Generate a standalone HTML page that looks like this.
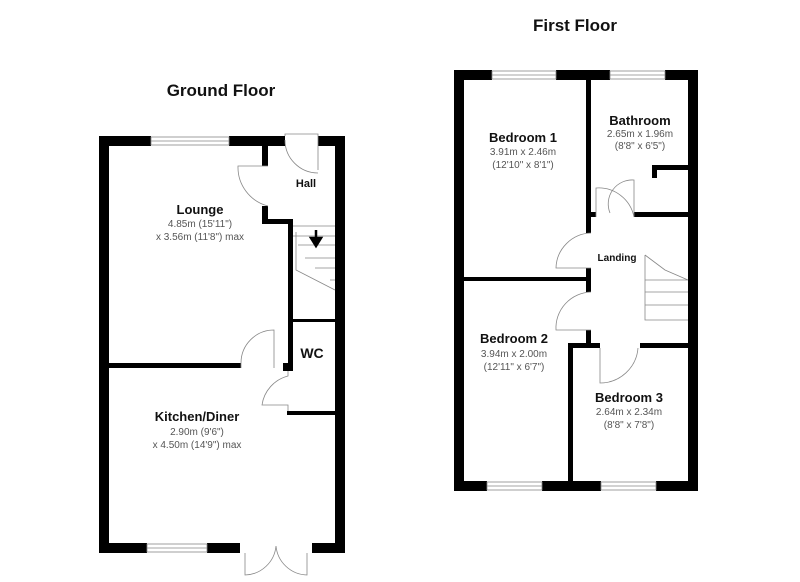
<!DOCTYPE html>
<html><head><style>
body{margin:0;background:#fff}
svg{display:block}
text{font-family:"Liberation Sans",sans-serif;text-anchor:middle}
.t{font-size:13px;font-weight:bold;fill:#111}
.s{font-size:10px;fill:#555}
.h{font-size:17px;font-weight:bold;fill:#111}
</style></head><body>
<svg width="800" height="582" viewBox="0 0 800 582">
<g fill="#000">
<rect x="99" y="136" width="52" height="10"/>
<rect x="229" y="136" width="56" height="10"/>
<rect x="318" y="136" width="27" height="10"/>
<rect x="99" y="136" width="10" height="417"/>
<rect x="335" y="136" width="10" height="417"/>
<rect x="99" y="543" width="48" height="10"/>
<rect x="207" y="543" width="33" height="10"/>
<rect x="312" y="543" width="33" height="10"/>
<rect x="262" y="146" width="6" height="20"/>
<rect x="262" y="206" width="6" height="18"/>
<rect x="262" y="219" width="31" height="5"/>
<rect x="288" y="219" width="5" height="152"/>
<rect x="293" y="319" width="42" height="3"/>
<rect x="109" y="363" width="132" height="5"/>
<rect x="283" y="363" width="10" height="8"/>
<rect x="287" y="411" width="48" height="4"/>
<rect x="454" y="70" width="38" height="10"/>
<rect x="556" y="70" width="54" height="10"/>
<rect x="665" y="70" width="33" height="10"/>
<rect x="454" y="70" width="10" height="421"/>
<rect x="688" y="70" width="10" height="421"/>
<rect x="454" y="481" width="33" height="10"/>
<rect x="542" y="481" width="59" height="10"/>
<rect x="656" y="481" width="42" height="10"/>
<rect x="586" y="80" width="5" height="153"/>
<rect x="586" y="212" width="10" height="5"/>
<rect x="634" y="212" width="54" height="5"/>
<rect x="652" y="165" width="36" height="5"/>
<rect x="652" y="165" width="5" height="13"/>
<rect x="586" y="268" width="5" height="24"/>
<rect x="464" y="277" width="127" height="4"/>
<rect x="586" y="330" width="5" height="15"/>
<rect x="568" y="343" width="32" height="5"/>
<rect x="640" y="343" width="48" height="5"/>
<rect x="568" y="343" width="5" height="140"/>
</g>
<g fill="none" stroke="#888" stroke-width="0.8">
<rect x="151" y="137" width="78" height="8"/><line x1="151" y1="141" x2="229" y2="141"/>
<rect x="147" y="544" width="60" height="8"/><line x1="147" y1="548" x2="207" y2="548"/>
<rect x="492" y="71" width="64" height="8"/><line x1="492" y1="75" x2="556" y2="75"/>
<rect x="610" y="71" width="55" height="8"/><line x1="610" y1="75" x2="665" y2="75"/>
<rect x="487" y="482" width="55" height="8"/><line x1="487" y1="486" x2="542" y2="486"/>
<rect x="601" y="482" width="55" height="8"/><line x1="601" y1="486" x2="656" y2="486"/>
<path d="M285 136 L285 134 L318 134 L318 170 M285 140 A33 33 0 0 0 318 173"/>
<path d="M268 166 L238 166 A40 40 0 0 0 268 206"/>
<path d="M241 368 L241 363 A33 33 0 0 1 274 330 L274 368"/>
<path d="M288 371 L288 376 A35 35 0 0 0 262 405 L288 405 L288 411"/>
<path d="M245 553 L245 575 A32 32 0 0 0 276 546 M307 553 L307 575 A32 32 0 0 1 276 546"/>
<path d="M596 217 L596 188 A36 36 0 0 1 634 217 M634 217 L634 180 A24 24 0 0 0 610 213"/>
<path d="M591 233 A36 36 0 0 0 556 268 L591 268"/>
<path d="M591 292 A36 36 0 0 0 556 330 L591 330"/>
<path d="M600 348 L600 383 A38 38 0 0 0 638 348"/>
<path d="M293 226 L335 226 M293 236 L335 236 M298 245 L335 245 M305 258 L335 258 M315 268 L335 268 M330 280 L335 280 M296 232 L296 270 L335 290"/>
<path d="M645 255 L645 320 L688 320 M645 305 L688 305 M645 292 L688 292 M645 280 L688 280 M645 255 L665 270 L688 280"/>
</g>
<path d="M316 230 L316 240 M311 238 L316 246 L321 238 Z" stroke="#000" stroke-width="2.5" fill="#000"/>
<text class="h" x="221" y="96">Ground Floor</text>
<text class="h" x="575" y="31">First Floor</text>
<text class="t" x="200" y="214">Lounge</text>
<text class="s" x="200" y="227">4.85m (15'11")</text>
<text class="s" x="200" y="240">x 3.56m (11'8") max</text>
<text class="t" x="306" y="187" style="font-size:11px">Hall</text>
<text class="t" x="312" y="358" style="font-size:14px">WC</text>
<text class="t" x="197" y="421">Kitchen/Diner</text>
<text class="s" x="197" y="435">2.90m (9'6")</text>
<text class="s" x="197" y="448">x 4.50m (14'9") max</text>
<text class="t" x="523" y="142">Bedroom 1</text>
<text class="s" x="523" y="155">3.91m x 2.46m</text>
<text class="s" x="523" y="168">(12'10" x 8'1")</text>
<text class="t" x="640" y="125">Bathroom</text>
<text class="s" x="640" y="137">2.65m x 1.96m</text>
<text class="s" x="640" y="149">(8'8" x 6'5")</text>
<text class="t" x="617" y="261" style="font-size:10px">Landing</text>
<text class="t" x="514" y="343">Bedroom 2</text>
<text class="s" x="514" y="357">3.94m x 2.00m</text>
<text class="s" x="514" y="370">(12'11" x 6'7")</text>
<text class="t" x="629" y="402">Bedroom 3</text>
<text class="s" x="629" y="415">2.64m x 2.34m</text>
<text class="s" x="629" y="428">(8'8" x 7'8")</text>
</svg>
</body></html>
